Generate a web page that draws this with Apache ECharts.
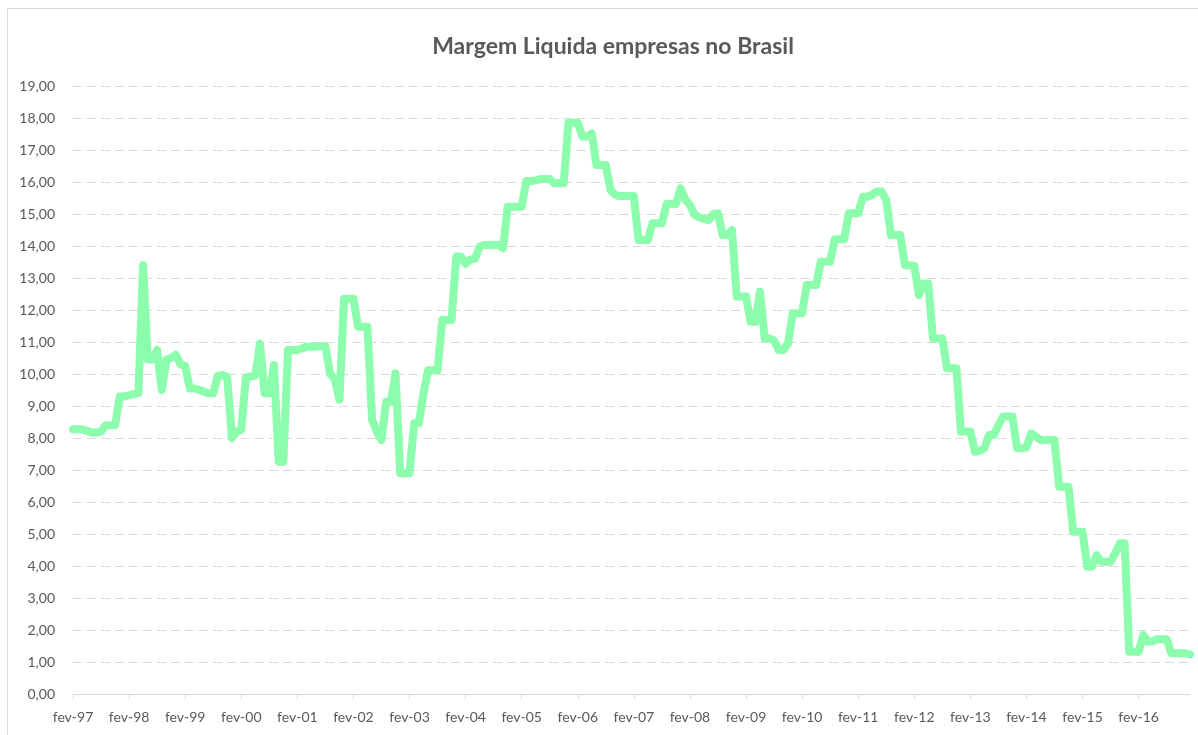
<!DOCTYPE html>
<html>
<head>
<meta charset="utf-8">
<script src="https://cdn.jsdelivr.net/npm/echarts@6/dist/echarts.min.js"></script>
<style>
  html, body { margin: 0; padding: 0; background: #fff; }
  #chart { width: 1198px; height: 735px; }
</style>
</head>
<body>
<div id="chart"></div>
<script>
// monthly categories, fev-97 .. jan-17
let monthNames = ['jan', 'fev', 'mar', 'abr', 'mai', 'jun', 'jul', 'ago', 'set', 'out', 'nov', 'dez'];
let startYear = 1997;
let startMonth = 1; // fev
let monthCount = 240;

// Margem liquida (%), one value per month
let margem1997to2001 = [
    8.27, 8.27, 8.27, 8.22, 8.17, 8.17, 8.20, 8.40, 8.40, 8.40, 9.30, 9.30,
    9.33, 9.37, 9.40, 13.40, 10.45, 10.45, 10.75, 9.50, 10.45, 10.50, 10.60, 10.30,
    10.25, 9.55, 9.55, 9.50, 9.45, 9.40, 9.40, 9.95, 9.97, 9.90, 8.00, 8.20,
    8.25, 9.90, 9.92, 9.95, 10.95, 9.40, 9.40, 10.28, 7.26, 7.26, 10.75, 10.75,
    10.75, 10.80, 10.85, 10.85, 10.85, 10.87, 10.87, 10.00, 9.85, 9.20, 12.35, 12.35
];
let margem2002to2006 = [
    12.35, 11.48, 11.48, 11.48, 8.56, 8.20, 7.94, 9.13, 9.13, 10.02, 6.90, 6.90,
    6.90, 8.46, 8.46, 9.40, 10.12, 10.12, 10.12, 11.69, 11.69, 11.69, 13.67, 13.67,
    13.44, 13.58, 13.60, 13.98, 14.03, 14.03, 14.03, 14.03, 13.93, 15.23, 15.23, 15.23,
    15.23, 16.03, 16.03, 16.05, 16.09, 16.09, 16.09, 15.96, 15.96, 15.96, 17.85, 17.85,
    17.85, 17.42, 17.42, 17.52, 16.53, 16.53, 16.53, 15.75, 15.60, 15.56, 15.56, 15.56
];
let margem2007to2011 = [
    15.56, 14.19, 14.19, 14.19, 14.71, 14.71, 14.71, 15.31, 15.31, 15.31, 15.80, 15.45,
    15.28, 14.97, 14.90, 14.85, 14.81, 15.00, 15.02, 14.34, 14.34, 14.50, 12.42, 12.42,
    12.42, 11.63, 11.63, 12.57, 11.11, 11.11, 11.05, 10.75, 10.75, 10.96, 11.90, 11.90,
    11.90, 12.78, 12.78, 12.78, 13.51, 13.51, 13.51, 14.21, 14.21, 14.21, 15.02, 15.02,
    15.02, 15.54, 15.54, 15.60, 15.70, 15.70, 15.44, 14.34, 14.34, 14.34, 13.40, 13.40
];
let margem2012to2016 = [
    13.38, 12.47, 12.83, 12.83, 11.11, 11.11, 11.11, 10.18, 10.18, 10.18, 8.20, 8.20,
    8.20, 7.57, 7.60, 7.68, 8.09, 8.09, 8.40, 8.67, 8.67, 8.67, 7.68, 7.68,
    7.70, 8.14, 8.05, 7.94, 7.94, 7.94, 7.94, 6.48, 6.48, 6.48, 5.07, 5.07,
    5.07, 3.98, 3.98, 4.34, 4.13, 4.13, 4.13, 4.40, 4.71, 4.71, 1.32, 1.32,
    1.32, 1.84, 1.63, 1.65, 1.71, 1.71, 1.71, 1.27, 1.27, 1.27, 1.27, 1.24
];

let margemLiquida = margem1997to2001.concat(margem2002to2006, margem2007to2011, margem2012to2016);

let categories = [];
for (let i = 0; i < monthCount; i++) {
    let m = (startMonth + i) % 12;
    let y = startYear + Math.floor((startMonth + i) / 12);
    categories.push(monthNames[m] + '-' + String(y % 100).padStart(2, '0'));
}

let textColor = '#595959';
let gridColor = '#d9d9d9';

let chart = echarts.init(document.getElementById('chart'));
chart.setOption({
    backgroundColor: '#ffffff',
    animation: false,
    textStyle: {
        fontFamily: 'Lato',
    },
    title: {
        text: 'Margem Liquida empresas no Brasil',
        left: 608,
        top: 30,
        textAlign: 'center',
        textStyle: {
            fontFamily: 'Lato',
            fontSize: 23,
            fontWeight: 'bold',
            color: textColor
        }
    },
    graphic: [{
        type: 'rect',
        shape: { x: 7.5, y: 8.5, width: 1200, height: 740 },
        style: { fill: 'none', stroke: gridColor, lineWidth: 1 },
        silent: true
    }],
    grid: {
        left: 73,
        right: 8,
        top: 86,
        bottom: 41,
        containLabel: false
    },
    xAxis: {
        type: 'category',
        data: categories,
        boundaryGap: false,
        axisLine: {
            show: true,
            lineStyle: { color: gridColor, width: 1 }
        },
        axisTick: {
            show: true,
            interval: 11,
            length: 5,
            lineStyle: { color: gridColor }
        },
        axisLabel: {
            interval: 11,
            margin: 16,
            fontSize: 14,
            color: textColor
        },
        splitLine: { show: false }
    },
    yAxis: {
        type: 'value',
        min: 0,
        max: 19,
        interval: 1,
        axisLine: { show: false },
        axisTick: { show: false },
        axisLabel: {
            margin: 18,
            fontSize: 14,
            color: textColor,
            formatter: function (value) {
                return value.toFixed(2).replace('.', ',');
            }
        },
        splitLine: {
            show: true,
            lineStyle: {
                color: gridColor,
                width: 1,
                type: [9, 5]
            }
        }
    },
    series: [{
        name: 'Margem Liquida',
        type: 'line',
        data: margemLiquida,
        symbol: 'none',
        smooth: false,
        lineStyle: {
            color: '#8cfdac',
            width: 8,
            join: 'round',
            cap: 'round'
        }
    }]
});
</script>
</body>
</html>
